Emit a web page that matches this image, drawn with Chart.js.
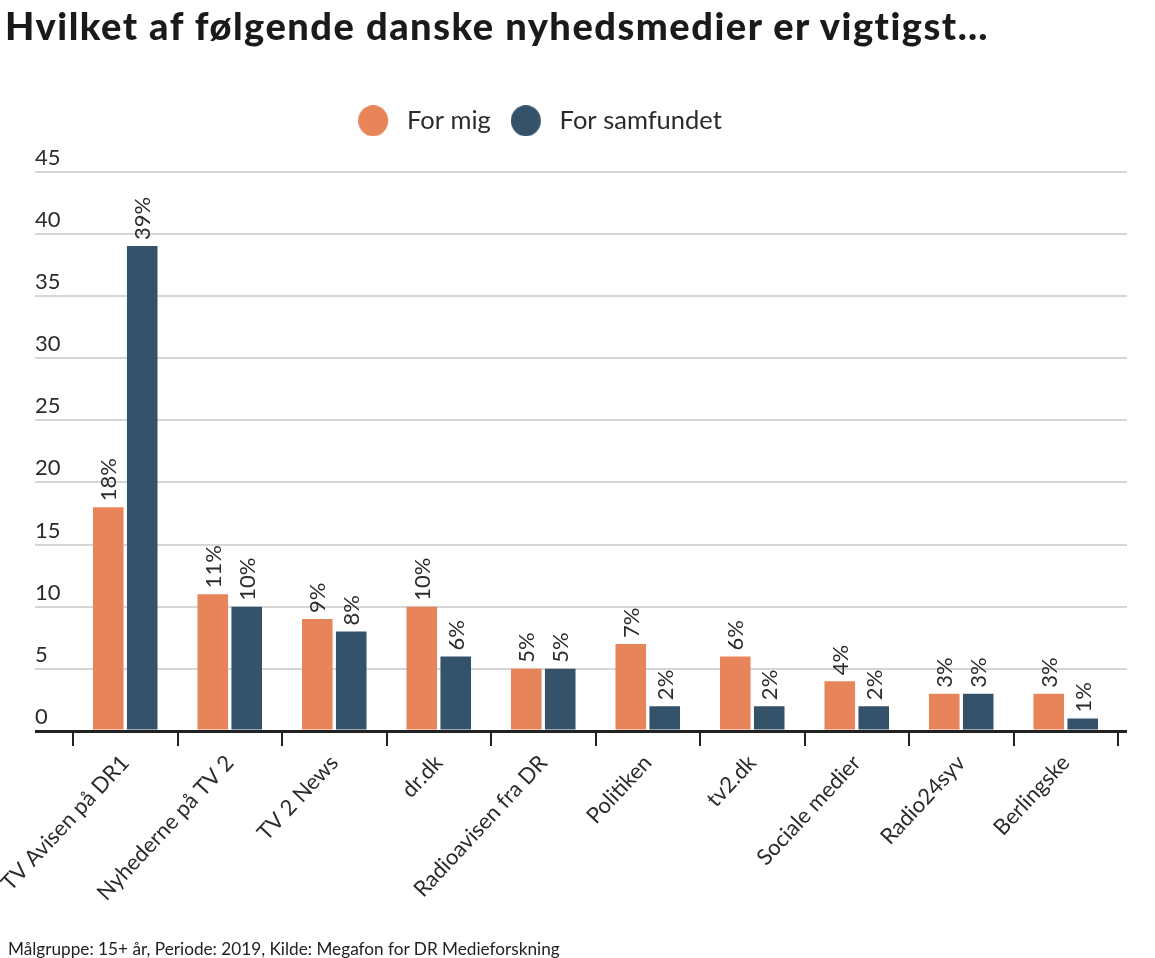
<!DOCTYPE html>
<html>
<head>
<meta charset="utf-8">
<script src="https://cdn.jsdelivr.net/npm/chart.js@4/dist/chart.umd.min.js"></script>
<style>
  html, body { margin: 0; padding: 0; background: #fff; }
  body { width: 1155px; height: 958px; position: relative; overflow: hidden; font-family: Lato, sans-serif; }
  #title { position: absolute; left: 5px; top: 2px; margin: 0; font: 900 38px Lato, sans-serif; letter-spacing: 1.5px; color: #1a1a1a; white-space: nowrap; }
  #source { position: absolute; left: 8px; top: 938px; font-size: 17.2px; color: #222; }
  #wrap { position: absolute; left: 0; top: 0; width: 1155px; height: 958px; }
</style>
</head>
<body>
<div id="wrap"><canvas id="chart"></canvas></div>
<h1 id="title">Hvilket af følgende danske nyhedsmedier er vigtigst…</h1>
<div id="source">Målgruppe: 15+ år, Periode: 2019, Kilde: Megafon for DR Medieforskning</div>
<script>
let categories = ["TV Avisen på DR1", "Nyhederne på TV 2", "TV 2 News", "dr.dk", "Radioavisen fra DR",
  "Politiken", "tv2.dk", "Sociale medier", "Radio24syv", "Berlingske"];
let forMig = [18, 11, 9, 10, 5, 7, 6, 4, 3, 3];
let forSamfundet = [39, 10, 8, 6, 5, 2, 2, 2, 3, 1];
let yMin = 0;
let yMax = 45;
let yStep = 5;

const orange = '#e8845a';
const blue = '#34526a';
const textColor = '#2b2b2b';

function gridColor(ctx) {
  return ctx.tick && ctx.tick.value === 0 ? '#222' : '#d6d6d6';
}
function gridWidth(ctx) {
  return ctx.tick && ctx.tick.value === 0 ? 3 : 2;
}

// legend dot with some empty room on its right, so the text sits further off
function legendDot(color) {
  const c = document.createElement('canvas');
  c.width = 36;
  c.height = 31;
  const g = c.getContext('2d');
  g.fillStyle = color;
  g.beginPath();
  g.ellipse(15, 15.5, 15, 15.5, 0, 0, Math.PI * 2);
  g.fill();
  return c;
}
const dots = [legendDot(orange), legendDot(blue)];

// draws the rotated percent labels on top of each bar
const barLabels = {
  id: 'barLabels',
  afterDatasetsDraw(chart) {
    const ctx = chart.ctx;
    ctx.save();
    ctx.font = '22px Lato';
    ctx.fillStyle = textColor;
    ctx.textAlign = 'left';
    ctx.textBaseline = 'middle';
    chart.data.datasets.forEach((ds, i) => {
      chart.getDatasetMeta(i).data.forEach((bar, j) => {
        ctx.save();
        ctx.translate(bar.x, bar.y - 6);
        ctx.rotate(-Math.PI / 2);
        ctx.fillText(ds.data[j] + '%', 0, 1);
        ctx.restore();
      });
    });
    ctx.restore();
  }
};

// legend in the original sits left of centre
const shiftLegend = {
  id: 'shiftLegend',
  afterLayout(chart) {
    chart.legend.left -= 41;
    chart.legend.right -= 41;
  }
};

Chart.defaults.font.family = 'Lato';
Chart.defaults.color = textColor;

createChart(document.getElementById('chart'), 'bar', {
  labels: categories,
  datasets: [{
    label: 'For mig',
    data: forMig,
    backgroundColor: orange,
    categoryPercentage: 0.65,
    barPercentage: 0.9,
  }, {
    label: 'For samfundet',
    data: forSamfundet,
    backgroundColor: blue,
    categoryPercentage: 0.65,
    barPercentage: 0.9,
  }]
}, {
  responsive: true,
  maintainAspectRatio: false,
  animation: false,
  layout: { padding: { top: 88, left: 35, right: 28, bottom: 0 } },
  plugins: {
    legend: {
      position: 'top',
      labels: {
        usePointStyle: true,
        boxHeight: 21,
        pointStyleWidth: 36,
        padding: 20,
        color: textColor,
        font: { size: 25.5 },
        generateLabels: chart => Chart.defaults.plugins.legend.labels.generateLabels(chart)
          .map((item, i) => Object.assign(item, { pointStyle: dots[i] }))
      }
    },
    tooltip: { enabled: false }
  },
  scales: {
    x: {
      grid: { offset: true, drawOnChartArea: false, tickLength: 15, color: '#222', lineWidth: 2 },
      border: { display: false },
      ticks: { minRotation: 47, maxRotation: 47, padding: 4, font: { size: 22 }, color: textColor },
      afterFit: s => {
        s.height = 958 - 731;
        s.paddingLeft = 0;
        s.paddingRight = 0;
      }
    },
    xTop: {
      type: 'category',
      position: 'top',
      labels: categories,
      grid: { display: false },
      border: { display: false },
      ticks: { display: false },
      afterFit: s => { s.height = 28; }
    },
    y: {
      min: yMin, max: yMax,
      grid: { color: gridColor, lineWidth: gridWidth, tickLength: 38, drawTicks: true },
      border: { display: false },
      ticks: { stepSize: yStep, crossAlign: 'far', labelOffset: -14, font: { size: 22 }, color: textColor },
      afterFit: s => { s.width = 38; }
    },
    yRight: {
      position: 'right',
      min: yMin, max: yMax,
      grid: { color: gridColor, lineWidth: gridWidth, tickLength: 9, drawOnChartArea: false },
      border: { display: false },
      ticks: { stepSize: yStep, display: false },
      afterFit: s => { s.width = 9; }
    }
  }
});

function createChart(ctx, type, data, options) {
  const config = {
    type,
    data,
    options,
    plugins: [barLabels, shiftLegend],
  };
  new Chart(ctx, config);
}
</script>
</body>
</html>
